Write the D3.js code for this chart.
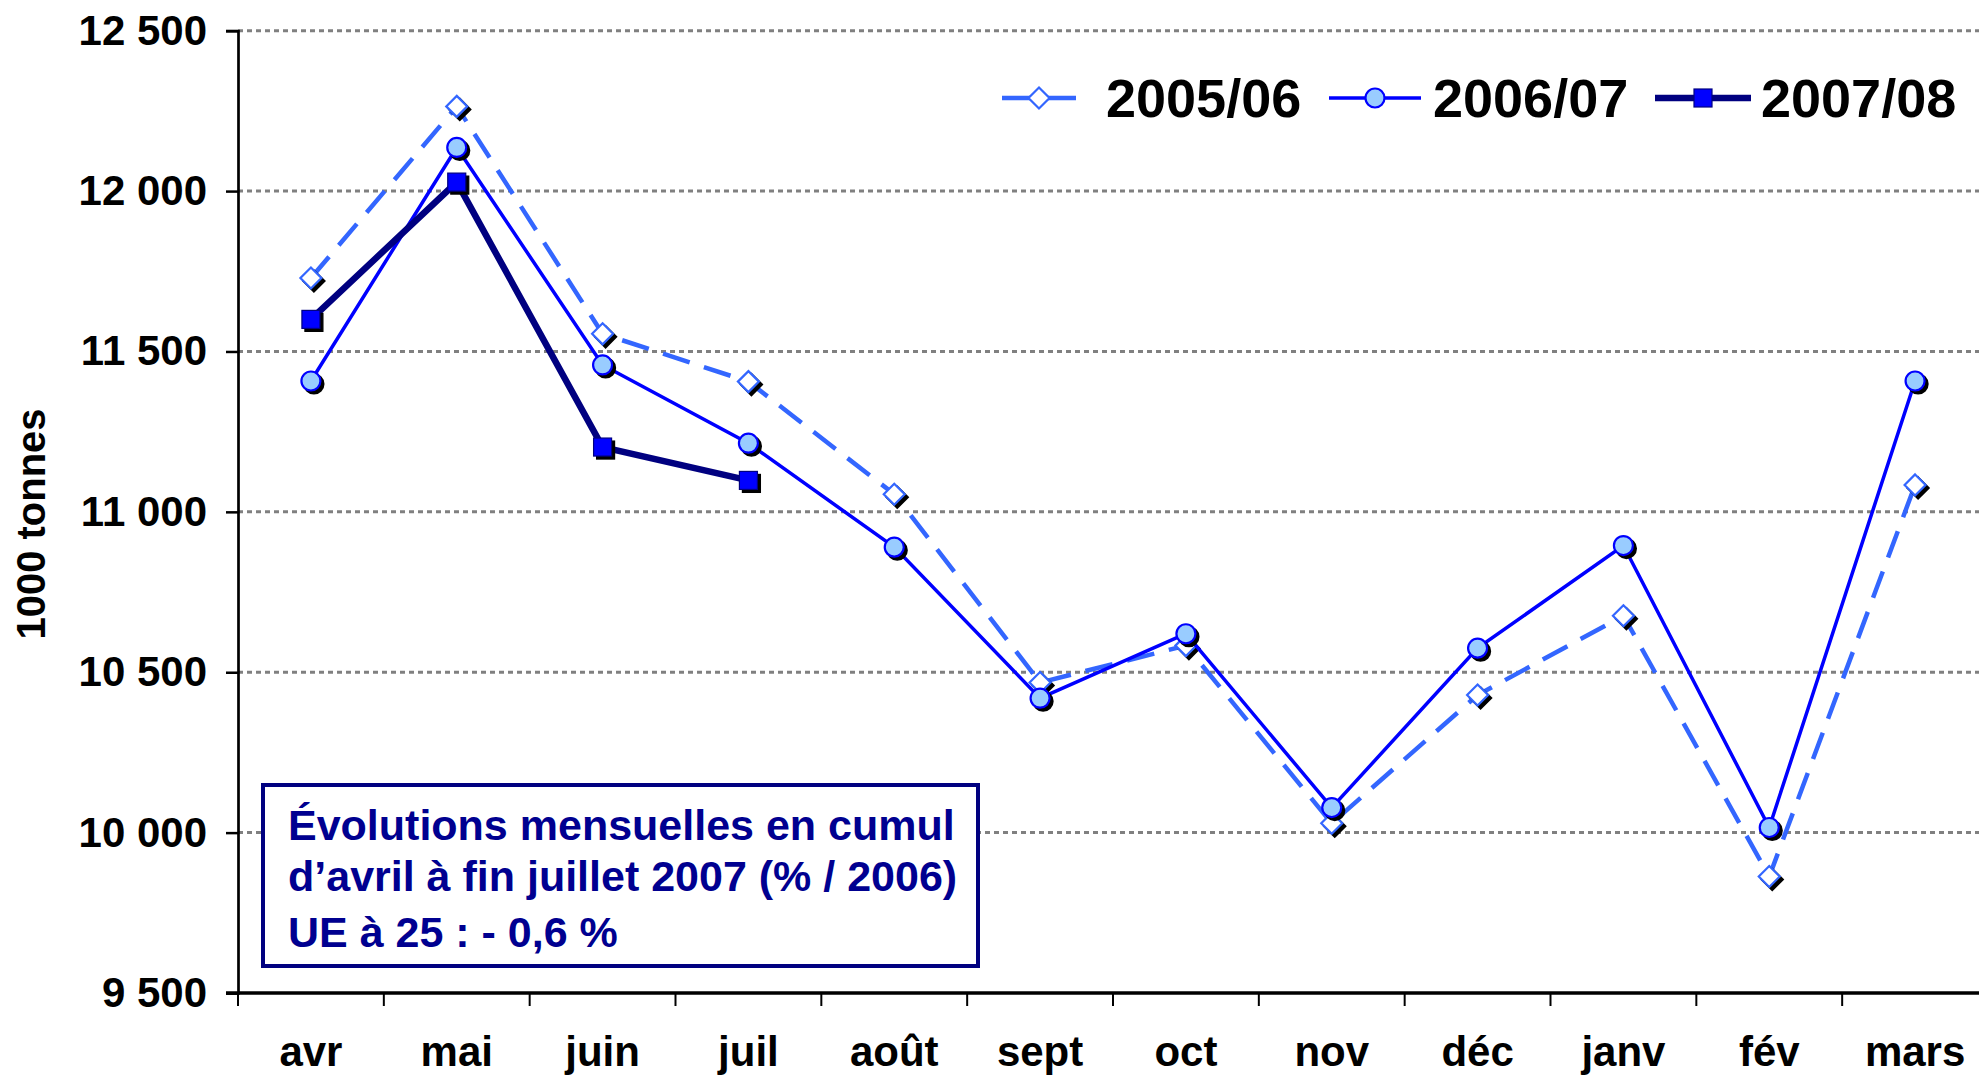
<!DOCTYPE html>
<html>
<head>
<meta charset="utf-8">
<script src="https://cdn.jsdelivr.net/npm/d3@7"></script>
<style>
  body { margin: 0; background: #fff; }
  text { font-family: "Liberation Sans", Arial, sans-serif; font-weight: bold; }
</style>
</head>
<body>
<div id="chart"></div>
<script>
// months of the marketing year (avril -> mars)
const months = ["avr", "mai", "juin", "juil", "août", "sept", "oct", "nov", "déc", "janv", "fév", "mars"];

// 1000 tonnes
const s2005 = [11729, 12264, 11555, 11406, 11055, 10468, 10583, 10029, 10429, 10676, 9863, 11084];
const s2006 = [11408, 12136, 11458, 11214, 10890, 10419, 10620, 10078, 10575, 10895, 10016, 11408];
const s2007 = [11600, 12028, 11202, 11098];

const seriesNames = ["2005/06", "2006/07", "2007/08"];
const yTicks = [9500, 10000, 10500, 11000, 11500, 12000, 12500];

const noteLines = [
  "Évolutions mensuelles en cumul",
  "d’avril à fin juillet 2007 (% / 2006)",
  "UE à 25 : - 0,6 %"
];

const W = 1979, H = 1077;
const plotLeft = 238, plotRight = 1988, plotTop = 30.7, plotBottom = 993;

const svg = d3.select("#chart").append("svg")
  .attr("width", W)
  .attr("height", H)
  .style("display", "block");

const x = d3.scaleBand().domain(months).range([plotLeft, plotRight]);
const y = d3.scaleLinear().domain([9500, 12500]).range([plotBottom, plotTop]);

const fmt = v => v >= 1000 ? Math.floor(v / 1000) + " " + String(v % 1000).padStart(3, "0") : String(v);

// grid
svg.append("g")
  .selectAll("line")
  .data(yTicks.filter(d => d > 9500))
  .enter().append("line")
  .attr("x1", plotLeft).attr("x2", plotRight)
  .attr("y1", d => y(d)).attr("y2", d => y(d))
  .attr("stroke", "#808080")
  .attr("stroke-width", 3)
  .attr("stroke-dasharray", "5,4");

// y axis
const yAxis = svg.append("g")
  .attr("transform", `translate(${plotLeft},0)`)
  .call(d3.axisLeft(y).tickValues(yTicks).tickSize(12).tickPadding(19).tickFormat(fmt));
yAxis.select(".domain").attr("stroke", "#000").attr("stroke-width", 2.7);
yAxis.selectAll(".tick line").attr("stroke", "#000").attr("stroke-width", 2.5);
yAxis.selectAll(".tick text")
  .attr("font-size", 42)
  .attr("font-family", "Liberation Sans, Arial, sans-serif")
  .attr("font-weight", "bold")
  .attr("fill", "#000");

// x axis: ticks between categories
const step = x.step();
svg.append("g")
  .selectAll("line")
  .data(d3.range(months.length + 1))
  .enter().append("line")
  .attr("x1", i => plotLeft + i * step).attr("x2", i => plotLeft + i * step)
  .attr("y1", plotBottom).attr("y2", plotBottom + 13)
  .attr("stroke", "#000")
  .attr("stroke-width", 2);
svg.append("line")
  .attr("x1", plotLeft - 12).attr("x2", plotRight)
  .attr("y1", plotBottom).attr("y2", plotBottom)
  .attr("stroke", "#000")
  .attr("stroke-width", 3.5);

svg.append("g")
  .selectAll("text")
  .data(months)
  .enter().append("text")
  .attr("x", d => x(d) + x.bandwidth() / 2)
  .attr("y", 1066)
  .attr("text-anchor", "middle")
  .attr("font-size", 42)
  .text(d => d);

// y title
svg.append("text")
  .attr("transform", "translate(45,524) rotate(-90)")
  .attr("text-anchor", "middle")
  .attr("font-size", 40)
  .text("1000 tonnes");

// note box
svg.append("rect")
  .attr("x", 263).attr("y", 785)
  .attr("width", 715).attr("height", 181)
  .attr("fill", "#fff")
  .attr("stroke", "#000080")
  .attr("stroke-width", 4);
svg.append("g")
  .selectAll("text")
  .data(noteLines)
  .enter().append("text")
  .attr("x", 288)
  .attr("y", (d, i) => [840, 891, 947][i])
  .attr("font-size", 43)
  .attr("fill", "#000090")
  .text(d => d);

// series
const styles = [
  { data: s2005, color: "#3366FF", width: 4.5, dash: "28,15", marker: "diamond" },
  { data: s2006, color: "#0000FF", width: 3.5, dash: null, marker: "circle" },
  { data: s2007, color: "#000080", width: 6.5, dash: null, marker: "square" }
];

const line = d3.line()
  .x((d, i) => x(months[i]) + x.bandwidth() / 2)
  .y(d => y(d));

function drawMarker(g, kind, cx, cy, shadow) {
  if (kind === "diamond") {
    const r = 10.5;
    g.append("path")
      .attr("d", `M${cx},${cy - r}L${cx + r},${cy}L${cx},${cy + r}L${cx - r},${cy}Z`)
      .attr("fill", shadow ? "#000" : "#fff")
      .attr("stroke", shadow ? "#000" : "#3366FF")
      .attr("stroke-width", 2.2);
  } else if (kind === "circle") {
    g.append("circle")
      .attr("cx", cx).attr("cy", cy).attr("r", 9.5)
      .attr("fill", shadow ? "#000" : "#99CCFF")
      .attr("stroke", shadow ? "#000" : "#0000FF")
      .attr("stroke-width", 2.2);
  } else {
    const s = 18;
    g.append("rect")
      .attr("x", cx - s / 2).attr("y", cy - s / 2)
      .attr("width", s).attr("height", s)
      .attr("fill", shadow ? "#000" : "#0000FF")
      .attr("stroke", shadow ? "#000" : "#000080")
      .attr("stroke-width", 1.2);
  }
}

styles.forEach(st => {
  const g = svg.append("g");
  g.append("path")
    .datum(st.data)
    .attr("d", line)
    .attr("fill", "none")
    .attr("stroke", st.color)
    .attr("stroke-width", st.width)
    .attr("stroke-dasharray", st.dash);
  st.data.forEach((v, i) => {
    const cx = x(months[i]) + x.bandwidth() / 2, cy = y(v);
    drawMarker(g, st.marker, cx + 3, cy + 3, true);
    drawMarker(g, st.marker, cx, cy, false);
  });
});

// legend
const legendPos = [
  { x1: 1002, x2: 1076, tx: 1106 },
  { x1: 1329, x2: 1421, tx: 1433 },
  { x1: 1655, x2: 1751, tx: 1761 }
];
const legendY = 98;
seriesNames.forEach((name, i) => {
  const st = styles[i], p = legendPos[i];
  const g = svg.append("g");
  g.append("line")
    .attr("x1", p.x1).attr("x2", p.x2)
    .attr("y1", legendY).attr("y2", legendY)
    .attr("stroke", st.color)
    .attr("stroke-width", st.width);
  drawMarker(g, st.marker, (p.x1 + p.x2) / 2, legendY, false);
  g.append("text")
    .attr("x", p.tx)
    .attr("y", 117)
    .attr("font-size", 54)
    .text(name);
});
</script>
</body>
</html>
